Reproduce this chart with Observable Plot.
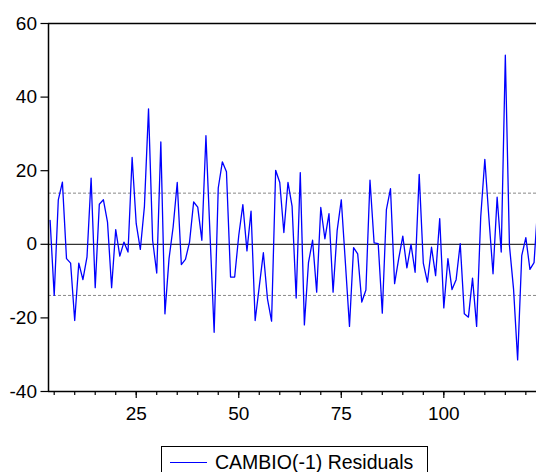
<!DOCTYPE html>
<html>
<head>
<meta charset="utf-8">
<script src="https://cdn.jsdelivr.net/npm/d3@7"></script>
<script src="https://cdn.jsdelivr.net/npm/@observablehq/plot@0.6"></script>
<style>
  body { margin: 0; background: #fff; font-family: "Liberation Sans", Arial, sans-serif; }
  #wrap { position: relative; width: 536px; height: 472px; overflow: hidden; background: #fff; }
  #legend { position: absolute; left: 161px; top: 446px; width: 267px; height: 40px;
            border: 1px solid #000; box-sizing: border-box; background: #fff; }
  #legend .sw { position: absolute; left: 8px; top: 15px; width: 37px; height: 0;
                border-top: 1.5px solid #0000ff; }
  #legend .tx { position: absolute; left: 53px; top: 3px; font-size: 19.5px; line-height: 24px;
                color: #000; white-space: nowrap; }
</style>
</head>
<body>
<div id="wrap">
  <div id="chart"></div>
  <div id="legend"><div class="sw"></div><div class="tx" id="legendText"></div></div>
</div>
<script>
// ---- data ----
const seriesName = "CAMBIO(-1) Residuals";
const firstObs = 4;
const residuals = [
  6.5, -13.9, 12.1, 16.9, -3.9, -5.1, -20.7, -5.1, -9.6, -3.4,      // 4-13
  18.0, -11.8, 10.9, 12.1, 6.0, -11.8, 4.0, -3.2, 0.6, -2.1,        // 14-23
  23.6, 5.6, -1.4, 10.3, 36.8, 1.1, -7.8, 27.8, -18.9, -3.9,        // 24-33
  4.7, 16.8, -5.5, -4.1, 0.6, 11.5, 10.1, 1.1, 29.5, 2.5,           // 34-43
  -23.9, 15.3, 22.4, 19.7, -8.9, -8.9, 2.4, 10.8, -1.8, 9.0,        // 44-53
  -20.7, -11.5, -2.3, -14.8, -20.9, 20.1, 16.8, 3.2, 16.8, 10.4,    // 54-63
  -14.6, 19.5, -21.9, -5.0, 1.1, -13.0, 10.0, 1.5, 8.3, -13.0,      // 64-73
  3.8, 12.1, -5.0, -22.3, -0.9, -2.6, -15.7, -12.4, 17.4, 0.4,      // 74-83
  0.2, -18.7, 9.4, 15.1, -10.7, -3.9, 2.2, -6.4, 0.0, -7.6,         // 84-93
  19.0, -5.1, -10.3, -0.8, -8.5, 7.0, -17.3, -3.9, -12.3, -9.6,     // 94-103
  0.2, -18.9, -19.8, -9.2, -22.3, 7.4, 23.1, 7.1, -8.0, 12.8,       // 104-113
  -2.1, 51.4, -0.3, -12.1, -31.4, -3.1, 1.8, -6.8, -5.0, 12.0       // 114-123
];
const obs = residuals.map((_, i) => firstObs + i);
const bandLimits = [-13.9, 13.9];   // +/- 1 S.E. reference lines
const zeroLine = [0];
const yTicks = [-40, -20, 0, 20, 40, 60];
const xMajorTicks = [25, 50, 75, 100];
const xMinorTicks = d3.range(5, 125, 5);
const xDomain = [3.61, 122.6];
const yDomain = [-40, 60];

const table = obs.map((o, i) => ({obs: o, resid: residuals[i]}));

const chart = Plot.plot({
  width: 536,
  height: 436,
  marginTop: 23,
  marginBottom: 45,
  marginLeft: 48,
  marginRight: 0,
  x: {domain: xDomain, label: null},
  y: {domain: yDomain, label: null},
  style: {fontFamily: "'Liberation Sans', Arial, sans-serif", fontSize: "19px", color: "#000", background: "#fff"},
  marks: [
    Plot.ruleY(bandLimits, {stroke: "#888", strokeWidth: 1, strokeDasharray: "3,2"}),
    Plot.ruleY(zeroLine, {stroke: "#000", strokeWidth: 1}),
    Plot.line(table, {x: "obs", y: "resid", stroke: "#0000ff", strokeWidth: 1.3, clip: true}),
    Plot.ruleY([yDomain[1]], {stroke: "#000", strokeWidth: 1.5}),
    Plot.ruleY([yDomain[0]], {stroke: "#000", strokeWidth: 1.5}),
    Plot.ruleX([xDomain[0]], {stroke: "#000", strokeWidth: 1.5}),
    Plot.axisY({ticks: yTicks, tickSize: 7.5, tickPadding: 4, fontSize: 19, strokeWidth: 1.2,
                tickFormat: d => String(d), label: null}),
    Plot.axisX({ticks: xMinorTicks, tickSize: 4, tickFormat: () => "", strokeWidth: 1.2, label: null}),
    Plot.axisX({ticks: xMajorTicks, tickSize: 7, tickPadding: 8, fontSize: 19, strokeWidth: 1.2,
                tickFormat: d => String(d), label: null})
  ]
});
document.getElementById("chart").appendChild(chart);
document.getElementById("legendText").textContent = seriesName;
</script>
</body>
</html>
